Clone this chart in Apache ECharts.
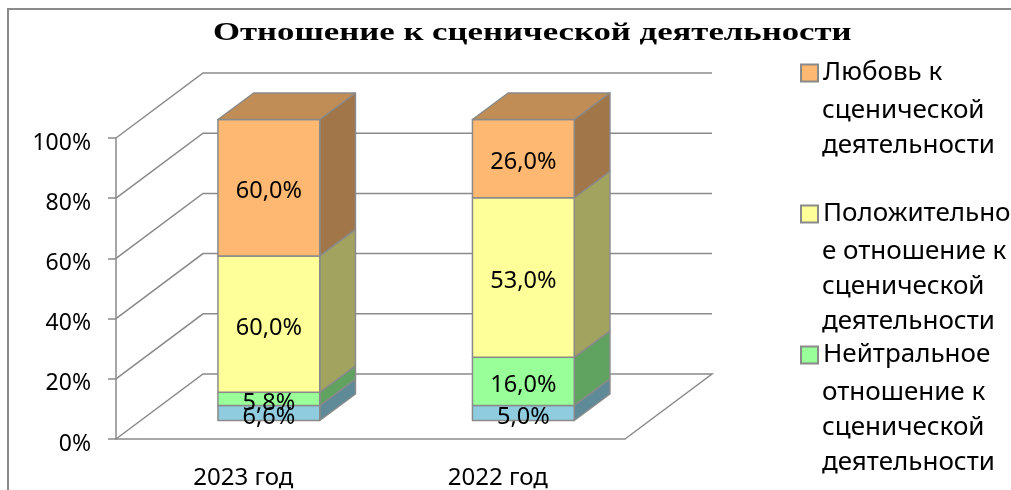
<!DOCTYPE html>
<html>
<head>
<meta charset="utf-8">
<script src="https://cdn.jsdelivr.net/npm/echarts@6/dist/echarts.min.js"></script>
<style>
  html, body { margin: 0; padding: 0; background: #fff; }
  #main { width: 1011px; height: 490px; }
</style>
</head>
<body>
<div id="main"></div>
<script>
const titleText = 'Отношение к сценической деятельности';
const years = ['2023 год', '2022 год'];
const yTicks = [0, 20, 40, 60, 80, 100];

// bottom to top, raw values as printed on the bars (they don't add up to 100 in 2023)
const lowValues = [6.6, 5.0];
const neutralValues = [5.8, 16.0];
const positiveValues = [60.0, 53.0];
const loveValues = [60.0, 26.0];

const lowName = 'Негативное отношение к сценической деятельности';
const neutralLines = ['Нейтральное', 'отношение к', 'сценической', 'деятельности'];
const positiveLines = ['Положительно', 'е отношение к', 'сценической', 'деятельности'];
const loveLines = ['Любовь к', 'сценической', 'деятельности'];

const frontColors = ['#8fcce0', '#99ff99', '#ffff99', '#ffb871'];
const sideColors = ['#5f8a98', '#60a360', '#a3a360', '#a1774a'];
const topColor = '#c08d56';
const lineColor = '#8a8a8a';
const fontName = '"Noto Sans", sans-serif';

// fake 3d depth, px
const wallDx = 87, wallDy = -65;
const barDx = 35.7, barDy = -26.5;
const frontDx = 25.6, frontDy = -18.5;

const stacks = [lowValues, neutralValues, positiveValues, loveValues];

function stackRows(idx) {
  return years.map((y, c) => {
    const total = stacks.reduce((s, a) => s + a[c], 0);
    let base = 0;
    for (let i = 0; i < idx; i++) base += stacks[i][c];
    return [c, base / total * 100, (base + stacks[idx][c]) / total * 100, stacks[idx][c]];
  });
}

function renderWall(params, api) {
  const cs = params.coordSys;
  const v = api.value(0);
  const y = api.coord([0, v])[1];
  const pts = [[cs.x, y], [cs.x + wallDx, y + wallDy], [cs.x + cs.width + wallDx, y + wallDy]];
  if (v === 0) pts.push([cs.x + cs.width, y]);
  return {
    type: 'polyline',
    shape: { points: pts },
    style: { fill: null, stroke: lineColor, lineWidth: 1.5 }
  };
}

function makeRenderBar(idx) {
  return function (params, api) {
    const band = api.size([1, 0])[0];
    const w = band * 0.4;
    const cx = api.coord([api.value(0), 0])[0] + frontDx;
    const x0 = cx - w / 2, x1 = cx + w / 2;
    const yb = api.coord([0, api.value(1)])[1] + frontDy;
    const yt = api.coord([0, api.value(2)])[1] + frontDy;
    const stroke = { stroke: lineColor, lineWidth: 1.5, lineJoin: 'round' };
    const children = [
      { type: 'polygon', shape: { points: [[x1, yb], [x1 + barDx, yb + barDy], [x1 + barDx, yt + barDy], [x1, yt]] },
        style: Object.assign({ fill: sideColors[idx] }, stroke) },
      { type: 'rect', shape: { x: x0, y: yt, width: w, height: yb - yt },
        style: Object.assign({ fill: frontColors[idx] }, stroke) }
    ];
    if (idx === stacks.length - 1) {
      children.push({ type: 'polygon', shape: { points: [[x0, yt], [x0 + barDx, yt + barDy], [x1 + barDx, yt + barDy], [x1, yt]] },
        style: Object.assign({ fill: topColor }, stroke) });
    }
    children.push({
      type: 'text', z2: 10,
      style: {
        x: cx, y: (yb + yt) / 2 + 4,
        text: api.value(3).toFixed(1).replace('.', ',') + '%',
        align: 'center', verticalAlign: 'middle',
        font: '23.5px ' + fontName, fill: '#000'
      }
    });
    return { type: 'group', children: children };
  };
}

const names = [lowName, neutralLines.join(' '), positiveLines.join(' '), loveLines.join(' ')];
const barSeries = stacks.map((a, i) => ({
  type: 'custom',
  name: names[i],
  renderItem: makeRenderBar(i),
  data: stackRows(i),
  encode: { x: 0, y: 2 },
  itemStyle: { color: frontColors[i] },
  clip: false,
  z: 3 + i
}));

// legend: first line through the legend itself, the rest is text under it
const legendBlocks = [
  { lines: loveLines, name: names[3], y: 73 },
  { lines: positiveLines, name: names[2], y: 214 },
  { lines: neutralLines, name: names[1], y: 355 }
];
const legendLineH = 35;

const legends = legendBlocks.map(b => ({
  left: 800,
  top: b.y - 13,
  padding: 0,
  icon: 'rect',
  itemWidth: 17,
  itemHeight: 17,
  itemGap: 0,
  data: [b.name],
  selectedMode: false,
  formatter: () => b.lines[0],
  itemStyle: { borderColor: lineColor, borderWidth: 2 },
  textStyle: { fontFamily: fontName, fontSize: 26, color: '#000' }
}));

const graphics = [
  { type: 'polyline', silent: true, shape: { points: [[8, 490], [8, 9], [1011, 9]] },
    style: { fill: null, stroke: lineColor, lineWidth: 2 } },
  { type: 'text', silent: true, x: 213, y: 21, scaleX: 1.39,
    style: { text: titleText, font: 'bold 25px "Liberation Serif", serif', fill: '#000' } }
];
legendBlocks.forEach(b => {
  b.lines.slice(1).forEach((t, i) => {
    graphics.push({
      type: 'text', silent: true, x: 822, y: b.y + 3 + (i + 1) * legendLineH,
      style: { text: t, font: '26px ' + fontName, fill: '#000', verticalAlign: 'middle' }
    });
  });
});

const chart = echarts.init(document.getElementById('main'));
chart.setOption({
  animation: false,
  backgroundColor: '#fff',
  legend: legends,
  grid: { left: 116, right: 386, top: 138, bottom: 51 },
  xAxis: {
    type: 'category',
    data: years,
    axisLine: { lineStyle: { color: lineColor, width: 1.5 } },
    axisTick: { length: 8, lineStyle: { color: lineColor, width: 1.5 } },
    axisLabel: { color: '#000', fontFamily: fontName, fontSize: 24, margin: 27 }
  },
  yAxis: {
    type: 'value',
    min: 0,
    max: 100,
    interval: 20,
    splitLine: { show: false },
    axisLine: { show: true, lineStyle: { color: lineColor, width: 1.5 } },
    axisTick: { show: true, length: 8, lineStyle: { color: lineColor, width: 1.5 } },
    axisLabel: {
      color: '#000', fontFamily: fontName, fontSize: 23, margin: 25,
      formatter: '{value}%', verticalAlign: 'top', lineHeight: 10
    }
  },
  graphic: graphics,
  series: [{
    type: 'custom',
    renderItem: renderWall,
    data: yTicks.map(v => [v]),
    encode: { y: 0 },
    silent: true,
    clip: false,
    z: 1
  }].concat(barSeries)
});
</script>
</body>
</html>
